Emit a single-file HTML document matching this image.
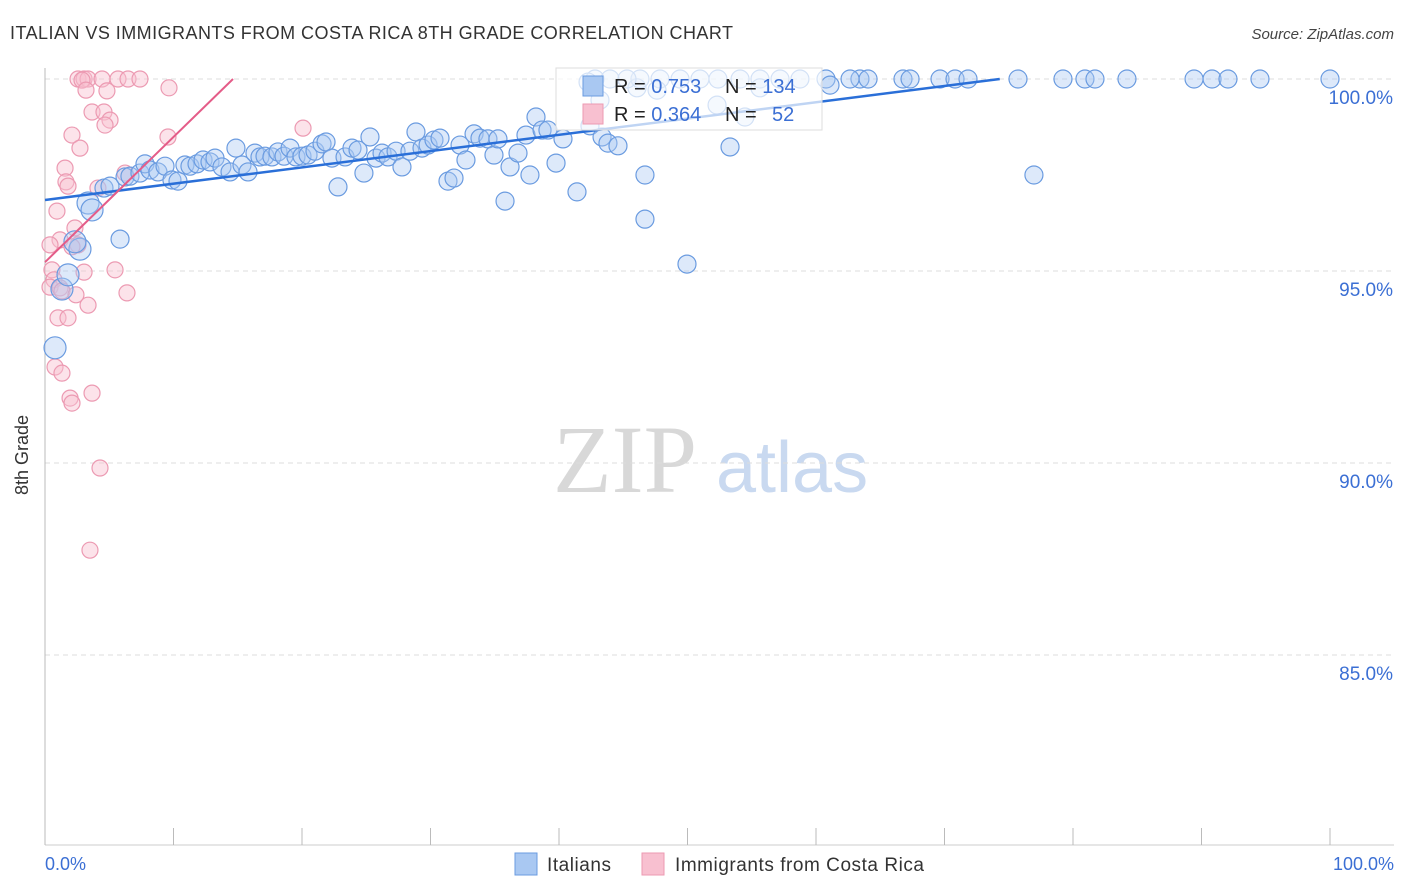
<!DOCTYPE html>
<html><head><meta charset="utf-8"><style>
body{margin:0;background:#fff;font-family:"Liberation Sans",sans-serif}
svg{display:block}
</style></head><body>
<svg id="chart" width="1406" height="892">
<text x="10" y="39" font-size="18" fill="#333" textLength="723">ITALIAN VS IMMIGRANTS FROM COSTA RICA 8TH GRADE CORRELATION CHART</text>
<text x="1394" y="39" font-size="15" fill="#444" font-style="italic" text-anchor="end">Source: ZipAtlas.com</text>
<g>
<text x="553" y="492" font-size="96" font-family="Liberation Serif,serif" fill="#d8d8d8">ZIP</text>
<text x="716" y="492" font-size="72" fill="#c9d9f0">atlas</text>
</g>
<g id="grid"></g>
<line x1="45" y1="68" x2="45" y2="845" stroke="#bbb"/>
<line x1="45" y1="845" x2="1394" y2="845" stroke="#ccc"/>
<g id="xticks"></g>
<text x="28" y="455" font-size="18" fill="#333" text-anchor="middle" transform="rotate(-90 28 455)">8th Grade</text>
<text x="45" y="870" font-size="18" fill="#3b6fd4">0.0%</text>
<text x="1394" y="870" font-size="18" fill="#3b6fd4" text-anchor="end">100.0%</text>
<g id="pink"></g><g id="blue"></g><g id="lines"></g>
<g>
<rect x="556" y="68" width="266" height="62" fill="#fff" fill-opacity="0.7" stroke="#ddd"/>
<rect x="583" y="76" width="20" height="20" fill="#a9c8f2" stroke="#6a9be0"/>
<rect x="583" y="104" width="20" height="20" fill="#f8c0d0" stroke="#ec9ab2"/>
<text x="614" y="93" font-size="20" fill="#222">R = <tspan fill="#3b6fd4">0.753</tspan></text>
<text x="725" y="93" font-size="20" fill="#222">N = <tspan fill="#3b6fd4">134</tspan></text>
<text x="614" y="121" font-size="20" fill="#222">R = <tspan fill="#3b6fd4">0.364</tspan></text>
<text x="725" y="121" font-size="20" fill="#222">N = <tspan x="772" fill="#3b6fd4">52</tspan></text>
</g>
<g>
<rect x="515" y="853" width="22" height="22" fill="#a9c8f2" stroke="#6a9be0"/>
<text x="547" y="871" font-size="19" fill="#333" textLength="64">Italians</text>
<rect x="642" y="853" width="22" height="22" fill="#f8c0d0" stroke="#ec9ab2"/>
<text x="675" y="871" font-size="19" fill="#333" textLength="249">Immigrants from Costa Rica</text>
</g>
</svg>
<script>
const yTicks=[100,95,90,85];
const yTickLabels=["100.0%","95.0%","90.0%","85.0%"];
const xTicks=[0,10,20,30,40,50,60,70,80,90,100];
const blueX=[0.78,1.32,1.79,2.72,2.33,3.35,3.66,4.59,5.06,5.84,6.23,6.61,7.39,7.78,8.17,8.79,9.34,9.88,10.35,10.89,11.28,11.83,12.3,12.84,13.23,13.77,14.4,14.86,15.33,15.8,16.34,16.73,17.12,17.66,18.13,18.6,19.07,19.53,20.0,20.47,21.01,21.56,21.87,22.33,22.8,23.35,23.89,24.36,24.82,25.29,25.76,26.23,26.69,27.32,27.78,28.4,28.87,29.34,29.81,30.27,30.74,31.36,31.83,32.3,32.76,33.39,33.85,34.47,34.94,35.25,35.8,36.19,36.81,37.43,37.74,38.21,38.68,39.14,39.77,40.31,41.4,42.41,43.35,43.81,44.59,46.07,46.69,46.69,49.96,53.31,54.47,76.96,75.72,79.22,80.93,81.71,84.2,89.42,90.82,92.06,94.55,100,63.42,64.05,62.65,60.78,58.75,57.2,55.64,54.09,52.37,50.97,49.42,47.86,46.3,66.77,67.32,69.65,70.82,71.83,42.8,43.97,45.29,42.26,43.19,47.63,52.3,55.64,61.09];
const blueY=[93.0,94.53,94.9,95.57,95.76,96.77,96.59,97.16,97.21,95.83,97.45,97.47,97.55,97.79,97.63,97.58,97.73,97.37,97.34,97.76,97.73,97.79,97.89,97.84,97.94,97.71,97.58,98.2,97.76,97.58,98.07,97.97,97.99,97.97,98.1,97.99,98.2,97.97,97.99,98.02,98.12,98.31,98.36,97.94,97.19,97.97,98.2,98.15,97.55,98.49,97.94,98.07,97.97,98.12,97.71,98.12,98.62,98.2,98.28,98.41,98.46,97.34,97.42,98.28,97.89,98.57,98.46,98.44,98.02,98.44,96.82,97.71,98.07,98.54,97.5,99.01,98.67,98.67,97.81,98.44,97.06,98.78,98.49,98.33,98.26,99.77,97.5,96.35,95.18,98.23,99.01,97.5,100,100,100,100,100,100,100,100,100,100,100,100,100,100,100,100,100,100,100,100,100,100,100,100,100,100,100,100,100,100,100,99.92,99.45,99.71,99.32,99.77,99.84];
const pinkX=[2.57,3.04,3.35,2.88,4.44,5.68,6.46,7.39,3.19,4.82,9.65,3.66,4.59,5.06,4.67,2.1,2.72,1.56,1.63,1.79,20.08,9.57,6.23,4.12,0.93,2.33,1.17,0.39,2.57,2.1,0.54,3.04,5.45,0.7,0.39,1.17,1.32,2.41,3.35,6.38,1.01,1.79,0.78,1.32,1.95,2.1,3.66,4.28,3.5];
const pinkY=[100,100,100,99.97,100,100,100,100,99.71,99.69,99.77,99.14,99.14,98.93,98.8,98.54,98.2,97.68,97.32,97.21,98.72,98.49,97.55,97.16,96.56,96.12,95.81,95.68,95.68,95.63,95.03,94.97,95.03,94.77,94.58,94.56,94.48,94.38,94.11,94.43,93.78,93.78,92.5,92.34,91.69,91.56,91.82,89.87,87.73];
const blueTrend=[[0,96.85],[74.3,100]];
const pinkTrend=[[0,95.23],[14.63,100]];
const NS="http://www.w3.org/2000/svg";
const sx=v=>45+v*12.85, sy=v=>79+(100-v)*38.4;
function mk(tag,at,parent){const e=document.createElementNS(NS,tag);for(const k in at)e.setAttribute(k,at[k]);document.getElementById(parent).appendChild(e);return e;}
yTicks.forEach((t,i)=>{
 const l=mk('line',{x1:45,x2:1394,y1:sy(t),y2:sy(t),stroke:'#ddd','stroke-dasharray':'5,4'},'grid');
 
 
 const tx=mk('text',{x:1393,y:sy(t)+25,'font-size':19,fill:'#3b6fd4','text-anchor':'end'},'grid');
 tx.textContent=yTickLabels[i];
 
 
});
xTicks.forEach(t=>{
 const l=mk('line',{x1:sx(t),x2:sx(t),y1:828,y2:845,stroke:'#bbb'},'xticks');
 
 
});
pinkX.forEach((x,i)=>{
 const c=mk('circle',{cx:sx(x),cy:sy(pinkY[i]),r:8,fill:'#f8c0d0','fill-opacity':0.45,stroke:'#ec9ab2','stroke-width':1.2},'pink');
 
 
});
blueX.forEach((x,i)=>{
 const c=mk('circle',{cx:sx(x),cy:sy(blueY[i]),r:i<7?11:9,fill:'#a9c8f2','fill-opacity':0.4,stroke:'#6a9be0','stroke-width':1.2},'blue');
 
 
});
const bl=mk('line',{x1:sx(blueTrend[0][0]),y1:sy(blueTrend[0][1]),x2:sx(blueTrend[1][0]),y2:sy(blueTrend[1][1]),stroke:'#2a6fd8','stroke-width':2.5},'lines');


const pl=mk('line',{x1:sx(pinkTrend[0][0]),y1:sy(pinkTrend[0][1]),x2:sx(pinkTrend[1][0]),y2:sy(pinkTrend[1][1]),stroke:'#e45c88','stroke-width':2},'lines');


</script>
</body></html>
